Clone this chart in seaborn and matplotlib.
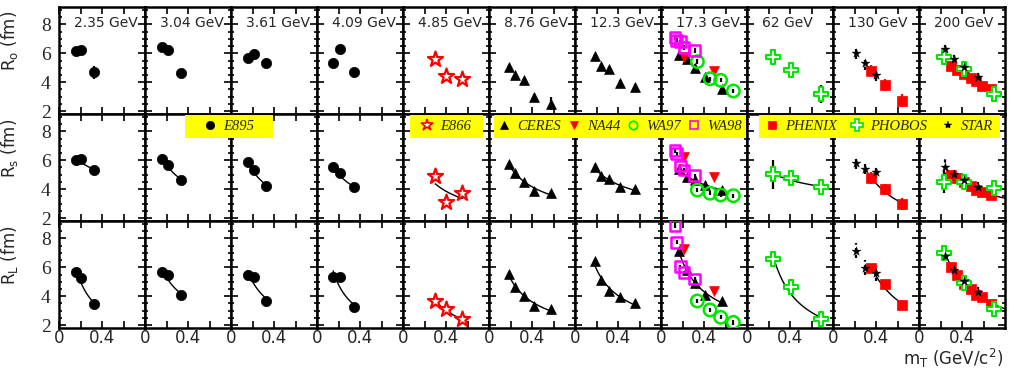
import numpy as np
import pandas as pd
import matplotlib
matplotlib.use("Agg")
import matplotlib.pyplot as plt
import seaborn as sns
from matplotlib.lines import Line2D
from matplotlib.patches import Rectangle
from matplotlib.ticker import MultipleLocator, FixedLocator, FixedFormatter

# ---- data -----------------------------------------------------------------
ENERGIES = ['2.35 GeV', '3.04 GeV', '3.61 GeV', '4.09 GeV', '4.85 GeV', '8.76 GeV',
            '12.3 GeV', '17.3 GeV', '62 GeV', '130 GeV', '200 GeV']
RADII = ['ro', 'rs', 'rl']
YLABELS = [r'R$_{\rm o}$ (fm)', r'R$_{\rm s}$ (fm)', r'R$_{\rm L}$ (fm)']

# E895 (AGS), panels 0-3
e895_cols = [0, 1, 2, 3]
e895_mt = [[0.16, 0.20, 0.33], [0.16, 0.21, 0.335], [0.155, 0.21, 0.33], [0.15, 0.21, 0.34]]
e895_ro = [[6.15, 6.25, 4.7], [6.4, 6.25, 4.65], [5.7, 5.95, 5.35], [5.3, 6.3, 4.7]]
e895_rs = [[6.0, 6.1, 5.3], [6.1, 5.7, 4.65], [5.85, 5.3, 4.25], [5.5, 5.1, 4.15]]
e895_rl = [[5.7, 5.25, 3.45], [5.7, 5.45, 4.1], [5.5, 5.3, 3.7], [5.3, 5.35, 3.25]]

# E866, panel 4
e866_cols = [4]
e866_mt = [[0.30, 0.40, 0.545]]
e866_ro = [[5.6, 4.4, 4.2]]
e866_rs = [[4.9, 3.1, 3.75]]
e866_rl = [[3.65, 3.1, 2.4]]

# CERES, panels 5-7
ceres_cols = [5, 6, 7]
ceres_mt = [[0.186, 0.242, 0.33, 0.42, 0.577],
            [0.186, 0.239, 0.319, 0.415, 0.561],
            [0.17, 0.239, 0.319, 0.409, 0.567]]
ceres_ro = [[5.05, 4.52, 4.15, 2.96, 2.5], [5.83, 5.1, 4.89, 3.96, 3.65], [5.88, 5.58, 4.96, 4.34, 3.55]]
ceres_rs = [[5.72, 5.14, 4.5, 3.9, 3.72], [5.56, 4.89, 4.7, 4.15, 3.99], [5.38, 4.86, 4.64, 4.29, 3.94]]
ceres_rl = [[5.53, 4.66, 4.01, 3.34, 3.09], [6.45, 5.12, 4.38, 3.92, 3.51], [7.1, 5.81, 4.89, 4.06, 3.67]]

# NA44, WA97, WA98, panel 7
na44_cols = [7]
na44_mt = [[0.214, 0.493]]
na44_ro = [[5.72, 4.75]]
na44_rs = [[6.2, 4.86]]
na44_rl = [[7.24, 4.36]]

wa97_cols = [7]
wa97_mt = [[0.338, 0.456, 0.555, 0.673]]
wa97_ro = [[5.42, 4.24, 4.13, 3.39]]
wa97_rs = [[3.94, 3.72, 3.6, 3.55]]
wa97_rl = [[3.67, 3.05, 2.54, 2.19]]

wa98_cols = [7]
wa98_mt = [[0.13, 0.145, 0.18, 0.214, 0.313]]
wa98_ro = [[7.08, 6.9, 6.8, 6.39, 6.18]]
wa98_rs = [[6.66, 6.45, 5.6, 5.33, 4.93]]
wa98_rl = [[8.88, 7.73, 6.04, 5.62, 5.19]]

# RHIC: PHOBOS (62, 200), PHENIX and STAR (130, 200)
phobos_cols = [8, 10]
phobos_mt = [[0.239, 0.409, 0.688], [0.235, 0.42, 0.695]]
phobos_ro = [[5.76, 4.84, 3.18], [5.72, 4.89, 3.18]]
phobos_rs = [[5.03, 4.75, 4.13], [4.52, 4.52, 4.06]]
phobos_rl = [[6.55, 4.61, 2.4], [6.97, 4.93, 3.09]]

phenix_cols = [9, 10]
phenix_mt = [[0.35, 0.484, 0.639], [0.30, 0.35, 0.42, 0.48, 0.53, 0.59, 0.67]]
phenix_ro = [[4.8, 3.79, 2.72], [5.15, 4.85, 4.6, 4.3, 4.1, 3.75, 3.5]]
phenix_rs = [[4.79, 3.99, 2.98], [4.95, 4.75, 4.5, 4.22, 3.95, 3.8, 3.6]]
phenix_rl = [[5.93, 4.84, 3.39], [6.0, 5.47, 4.84, 4.48, 4.08, 3.92, 3.46]]

star_cols = [9, 10]
star_mt = [[0.214, 0.298, 0.40], [0.245, 0.328, 0.42, 0.545]]
star_ro = [[6.04, 5.31, 4.5], [6.27, 5.58, 5.07, 4.34]]
star_rs = [[5.83, 5.42, 5.19], [5.51, 5.03, 4.64, 4.17]]
star_rl = [[7.15, 5.97, 5.58], [6.78, 5.81, 5.07, 4.31]]

# visible error bars (fm); anything not listed gets a small default
errors = {
    ('E895', 'ro'): [[0.15, 0.15, 0.45], [0.15, 0.15, 0.2], [0.15, 0.15, 0.15], [0.3, 0.3, 0.3]],
    ('E866', 'rs'): [[0.35, 0.35, 0.4]],
    ('CERES', 'ro'): [[0.15, 0.15, 0.15, 0.2, 0.45], [0.15, 0.15, 0.15, 0.2, 0.25], [0.2, 0.2, 0.3, 0.2, 0.2]],
    ('PHOBOS', 'ro'): [[0.3, 0.3, 0.65], [0.3, 0.3, 0.45]],
    ('PHOBOS', 'rs'): [[1.0, 0.5, 0.4], [0.8, 0.45, 0.4]],
    ('PHOBOS', 'rl'): [[0.4, 0.3, 0.3], [0.3, 0.3, 0.3]],
    ('PHENIX', 'ro'): [[0.4, 0.4, 0.45], [0.2] * 7],
    ('PHENIX', 'rs'): [[0.4, 0.4, 0.4], [0.2] * 7],
    ('STAR', 'ro'): [[0.45, 0.45, 0.45], [0.3, 0.3, 0.3, 0.3]],
    ('STAR', 'rs'): [[0.4, 0.4, 0.4], [0.6, 0.3, 0.3, 0.3]],
    ('STAR', 'rl'): [[0.5, 0.5, 0.5], [0.3, 0.3, 0.3, 0.3]],
}

# power-law fit m_T^-a drawn in rows 2-3, one experiment per panel
FIT_EXP = ['E895'] * 4 + ['E866', 'CERES', 'CERES', 'CERES', 'PHOBOS', 'PHENIX', 'PHENIX']

# ---- long table -----------------------------------------------------------
series = [
    ('E895', e895_cols, e895_mt, e895_ro, e895_rs, e895_rl),
    ('E866', e866_cols, e866_mt, e866_ro, e866_rs, e866_rl),
    ('CERES', ceres_cols, ceres_mt, ceres_ro, ceres_rs, ceres_rl),
    ('NA44', na44_cols, na44_mt, na44_ro, na44_rs, na44_rl),
    ('WA97', wa97_cols, wa97_mt, wa97_ro, wa97_rs, wa97_rl),
    ('WA98', wa98_cols, wa98_mt, wa98_ro, wa98_rs, wa98_rl),
    ('PHENIX', phenix_cols, phenix_mt, phenix_ro, phenix_rs, phenix_rl),
    ('PHOBOS', phobos_cols, phobos_mt, phobos_ro, phobos_rs, phobos_rl),
    ('STAR', star_cols, star_mt, star_ro, star_rs, star_rl),
]
records = []
for exp, cols, mts, ros, rss, rls in series:
    for k, col in enumerate(cols):
        for i, x in enumerate(mts[k]):
            rec = dict(exp=exp, col=col, mt=x, ro=ros[k][i], rs=rss[k][i], rl=rls[k][i])
            for r in RADII:
                err = errors.get((exp, r))
                rec[r + '_err'] = err[k][i] if err else 0.15
            records.append(rec)
df = pd.DataFrame(records)

STYLE = {
    'E895': dict(marker='o', color='black', edgecolor='black', s=55, linewidth=0.5),
    'E866': dict(marker='*', color='white', edgecolor='red', s=130, linewidth=1.6),
    'CERES': dict(marker='^', color='black', edgecolor='black', s=50, linewidth=0.5),
    'NA44': dict(marker='v', color='red', edgecolor='red', s=50, linewidth=0.5),
    'WA97': dict(marker='o', color='none', edgecolor='#00e600', s=80, linewidth=1.8),
    'WA98': dict(marker='s', color='none', edgecolor='#ff00ff', s=60, linewidth=1.8),
    'PHENIX': dict(marker='s', color='red', edgecolor='red', s=55, linewidth=0.5),
    'PHOBOS': dict(marker='P', color='white', edgecolor='#00e600', s=110, linewidth=1.5),
    'STAR': dict(marker='*', color='black', edgecolor='black', s=45, linewidth=0.3),
}
ERR_COLOR = {'E866': 'black', 'NA44': 'red', 'WA97': 'black', 'WA98': 'black', 'PHOBOS': 'black'}

# ---- figure ---------------------------------------------------------------
sns.set_style('ticks')
plt.rcParams['font.family'] = ['DejaVu Sans']
plt.rcParams['mathtext.fontset'] = 'dejavusans'

fig, axes = plt.subplots(3, 11, sharex=True, sharey=True, figsize=(10.14, 3.69), dpi=100)
plt.subplots_adjust(left=59 / 1014, right=1005 / 1014, top=1 - 7 / 369, bottom=1 - 328 / 369,
                    wspace=0, hspace=0)

for row, r in enumerate(RADII):
    for col in range(11):
        ax = axes[row, col]
        sub = df[df.col == col]

        if row > 0:
            fit = sub[sub.exp == FIT_EXP[col]]
            b, a = np.polyfit(np.log(fit.mt), np.log(fit[r]), 1)
            x0, x1 = fit.mt.min(), fit.mt.max()
            if col == 10:
                x0, x1 = df[df.col == 10].mt.min(), 0.8
            xs = np.linspace(x0, x1, 60)
            sns.lineplot(x=xs, y=np.exp(a) * xs ** b, ax=ax, color='black', linewidth=1.0, zorder=2)

        for exp, g in sub.groupby('exp', sort=False):
            eb = ax.errorbar(g.mt, g[r], yerr=g[r + '_err'], fmt='none',
                             ecolor=ERR_COLOR.get(exp, STYLE[exp]['edgecolor']), elinewidth=1.6, zorder=2.5)
            if exp == 'STAR':
                eb[2][0].set_linestyle((0, (1.5, 1.5)))
            sns.scatterplot(x=g.mt.values, y=g[r].values, ax=ax, zorder=3, legend=False, **STYLE[exp])

        ax.set_xlim(0, 0.8)
        ax.set_ylim(1.8, 9.2)
        ax.xaxis.set_major_locator(FixedLocator([0, 0.2, 0.4, 0.6]))
        ax.xaxis.set_major_formatter(FixedFormatter(['0', '', '0.4', '']))
        ax.yaxis.set_major_locator(FixedLocator([2, 4, 6, 8]))
        ax.yaxis.set_minor_locator(MultipleLocator(0.5))
        ax.tick_params(which='both', direction='in', top=True, bottom=True, left=True, right=True,
                       width=1.2, color='black')
        ax.tick_params(which='major', length=5)
        ax.tick_params(which='minor', length=2.5)
        ax.tick_params(axis='x', labelsize=12, pad=1)
        ax.tick_params(axis='y', labelsize=14, pad=6, labelfontfamily='Liberation Serif')
        for sp in ax.spines.values():
            sp.set_linewidth(1.8)
            sp.set_color('black')
        ax.set_xlabel('')
        ax.set_ylabel('')
        if row == 0:
            ax.text(0.17, 0.85, ENERGIES[col], transform=ax.transAxes, fontsize=10,
                    ha='left', va='center')
    axes[row, 0].set_ylabel(YLABELS[row], fontsize=12)
    axes[row, 0].yaxis.set_label_coords(-0.45, 0.68)

fig.text(1003 / 1014, 1 - 358 / 369, r'm$_{\rm T}$ (GeV/c$^{2}$)', fontsize=12, ha='right', va='center')


# ---- yellow legends -------------------------------------------------------
def handle(exp):
    st = STYLE[exp]
    ms = {'E866': 9, 'PHOBOS': 8, 'STAR': 6}.get(exp, 6)
    return Line2D([], [], linestyle='', marker=st['marker'], markersize=ms,
                  markerfacecolor=st['color'], markeredgecolor=st['edgecolor'],
                  markeredgewidth=min(st['linewidth'], 1.2), label=exp)


W, H = 1014, 369
legend_groups = [
    (['E895'], 185, 273, 0.5),
    (['E866'], 410, 483, 0.5),
    (['CERES', 'NA44', 'WA97', 'WA98'], 494, 746, 0.5),
    (['PHENIX', 'PHOBOS', 'STAR'], 759, 1000, 1.0),
]
for names, px0, px1, spacing in legend_groups:
    fig.patches.append(Rectangle((px0 / W, 1 - 138 / H), (px1 - px0) / W, 23 / H,
                                 transform=fig.transFigure, facecolor='#ffff00',
                                 edgecolor='none', zorder=4))
    leg = fig.legend(handles=[handle(n) for n in names], loc='center', frameon=False,
                     ncol=len(names), bbox_to_anchor=((px0 + px1) / 2 / W, 1 - 126.5 / H),
                     borderaxespad=0, borderpad=0.2, handlelength=0.8, handletextpad=0.5,
                     columnspacing=spacing,
                     prop={'family': 'Liberation Serif', 'style': 'italic', 'size': 10.5})
    leg.set_zorder(5)

fig.savefig('out.png', dpi=100)
